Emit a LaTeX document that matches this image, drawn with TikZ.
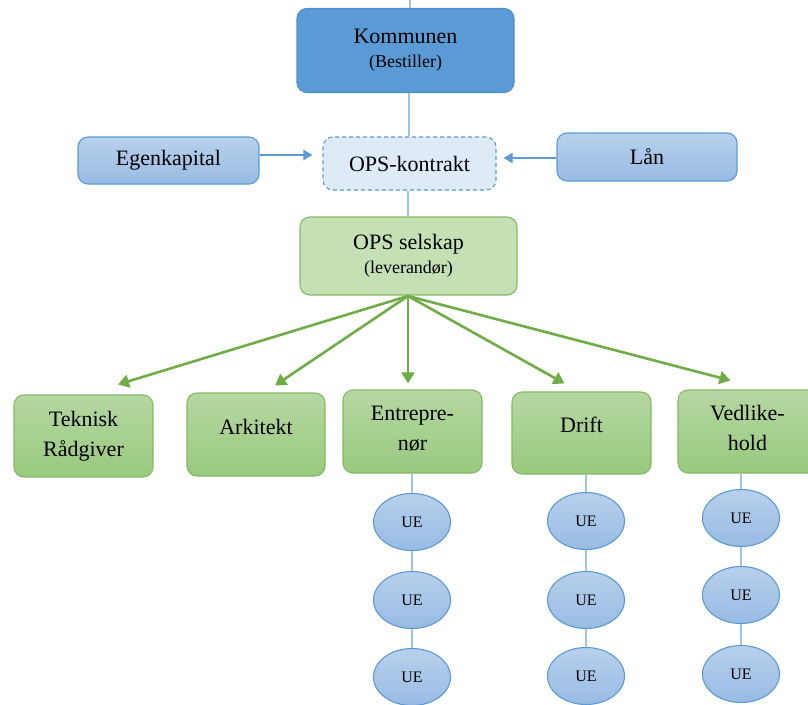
\documentclass[tikz,border=0pt]{standalone}
\usepackage{fontspec}
\setmainfont{Liberation Serif}
\usetikzlibrary{shapes.geometric,arrows.meta,calc}
\definecolor{dblue}{HTML}{5B9BD5}
\definecolor{dblueb}{HTML}{4F8DCB}
\definecolor{lblue}{HTML}{DEEBF7}
\definecolor{btop}{HTML}{B8D0EC}
\definecolor{bbot}{HTML}{98BBE3}
\definecolor{gtop}{HTML}{B5D7A2}
\definecolor{gbot}{HTML}{99C97E}
\definecolor{gline}{HTML}{70AD47}
\definecolor{lgreen}{HTML}{C5E0B4}
\definecolor{cline}{HTML}{9DC3E6}
\tikzset{
  x=1pt,y=-1pt,
  base/.style={rounded corners=10pt, line width=1.1pt, align=center, inner sep=2pt},
  kommbox/.style={base, fill=dblue, draw=dblueb, font=\fontsize{22}{26}\selectfont},
  contrbox/.style={base, fill=lblue, draw=dblue, dashed, dash pattern=on 4pt off 3pt, font=\fontsize{22}{26}\selectfont},
  sidebox/.style={base, top color=btop, bottom color=bbot, draw=dblue, font=\fontsize{22}{26}\selectfont},
  opsbox/.style={base, fill=lgreen, draw=gline!85, font=\fontsize{22}{26}\selectfont},
  gbox/.style={base, top color=gtop, bottom color=gbot, draw=gline!85, font=\fontsize{22}{30}\selectfont},
  ue/.style={ellipse, minimum width=77pt, minimum height=57pt, inner sep=0pt, top color=btop, bottom color=bbot, draw=dblue, line width=1.1pt, font=\fontsize{16}{18}\selectfont},
  conn/.style={draw=cline, line width=1.6pt},
  barrow/.style={draw=dblue, line width=2pt, -{Triangle[length=9pt,width=10pt]}},
  garrow/.style={draw=gline, line width=2.6pt, -{Triangle[length=11pt,width=13pt]}},
}
\newcommand{\upby}[2]{\raisebox{#1}[\height][\depth]{#2}}
\begin{document}
\begin{tikzpicture}
\useasboundingbox (0,0) rectangle (808,704);
% top row
\node[kommbox, minimum width=217pt, minimum height=84pt] (komm) at (405.5,50.5) {Kommunen\\[-2pt]{\fontsize{18}{20}\selectfont(Bestiller)}};
\node[contrbox, minimum width=173pt, minimum height=53pt] (kontr) at (409.5,163.5) {OPS-kontrakt};
\node[sidebox, minimum width=181pt, minimum height=47pt] (egen) at (168.5,160.5) {Egenkapital};
\node[sidebox, minimum width=180pt, minimum height=48pt] (laan) at (647,157) {Lån};
\node[opsbox, minimum width=217pt, minimum height=78pt] (ops) at (408.5,256) {OPS selskap\\[-2pt]{\fontsize{18}{20}\selectfont(leverandør)}};
% second row
\node[gbox, minimum width=139pt, minimum height=82pt] (tek) at (83.5,436) {Teknisk\\Rådgiver};
\node[gbox, minimum width=138pt, minimum height=83pt] (ark) at (256,434.5) {\upby{8pt}{Arkitekt}};
\node[gbox, minimum width=139pt, minimum height=83pt] (ent) at (412.5,431.5) {\upby{3pt}{Entrepre-}\\\upby{3pt}{nør}};
\node[gbox, minimum width=139pt, minimum height=82pt] (drift) at (581.5,433) {\upby{8pt}{Drift}};
\node[gbox, minimum width=139pt, minimum height=83pt] (vedl) at (747.5,431.5) {\upby{4pt}{Vedlike-}\\\upby{4pt}{hold}};
% UE
\node[ue] (ue11) at (412,522) {UE};
\node[ue] (ue12) at (412,600) {UE};
\node[ue] (ue13) at (412,677) {UE};
\node[ue] (ue21) at (586,521) {UE};
\node[ue] (ue22) at (586,600) {UE};
\node[ue] (ue23) at (586,676) {UE};
\node[ue] (ue31) at (741,518) {UE};
\node[ue] (ue32) at (741,595) {UE};
\node[ue] (ue33) at (741,674) {UE};
% connectors
\coordinate (topend) at (410,0);
\draw[conn] ([xshift=4.5pt]komm.north) -- (topend);
\draw[conn] ([xshift=3.5pt]komm.south) -- ([xshift=-0.5pt]kontr.north);
\draw[conn] ([xshift=-1.5pt]kontr.south) -- ([xshift=-0.5pt]ops.north);
\draw[barrow] ([yshift=5.5pt]egen.east) -- ([xshift=-10pt,yshift=8.5pt]kontr.west);
\draw[barrow] ([yshift=-1pt]laan.west) -- ([xshift=7pt,yshift=5.5pt]kontr.east);
\coordinate (hub) at (408,296);
\draw[garrow] (hub) -- ($(tek.north)+(34.5,-10)$);
\draw[garrow] (hub) -- ($(ark.north)+(19,-7)$);
\draw[garrow] (hub) -- ($(ent.north)+(-4.5,-6)$);
\draw[garrow] (hub) -- ($(drift.north)+(-17,-8)$);
\draw[garrow] (hub) -- ($(vedl.north)+(-17,-9)$);
\draw[conn] ([xshift=-0.5pt]ent.south) -- (ue11.north);
\draw[conn] (ue11) -- (ue12);
\draw[conn] (ue12) -- (ue13);
\draw[conn] ([xshift=4.5pt]drift.south) -- (ue21.north);
\draw[conn] (ue21) -- (ue22);
\draw[conn] (ue22) -- (ue23);
\draw[conn] ([xshift=-6.5pt]vedl.south) -- (ue31.north);
\draw[conn] (ue31) -- (ue32);
\draw[conn] (ue32) -- (ue33);
\end{tikzpicture}
\end{document}
